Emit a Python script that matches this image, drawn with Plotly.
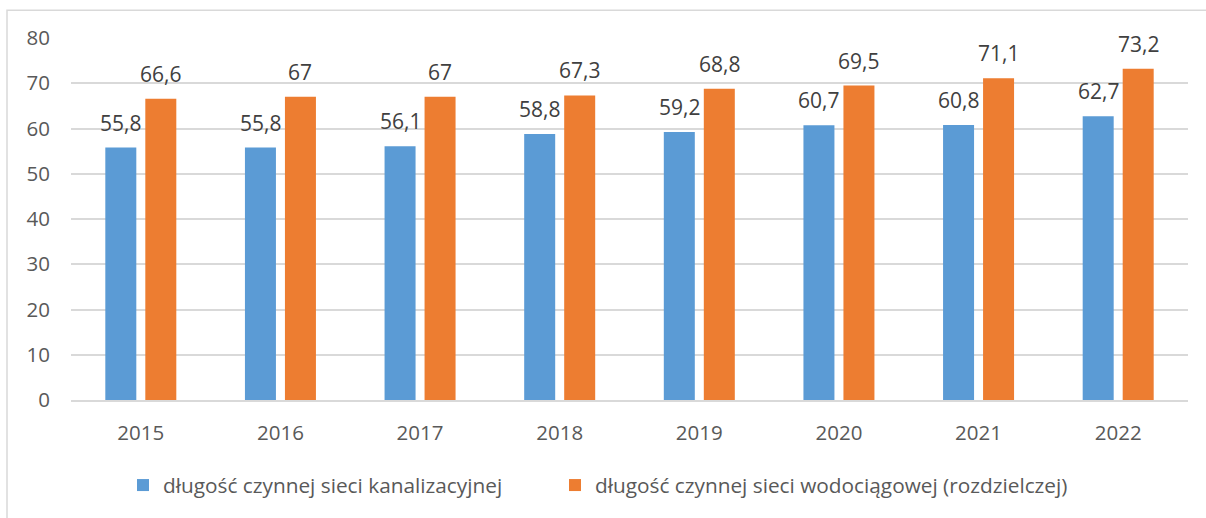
import plotly.graph_objects as go

years = ["2015", "2016", "2017", "2018", "2019", "2020", "2021", "2022"]
kanalizacja = [55.8, 55.8, 56.1, 58.8, 59.2, 60.7, 60.8, 62.7]
wodociagi = [66.6, 67, 67, 67.3, 68.8, 69.5, 71.1, 73.2]
name_kan = "długość czynnej sieci kanalizacyjnej"
name_wod = "długość czynnej sieci wodociągowej (rozdzielczej)"
y_ticks = [0, 10, 20, 30, 40, 50, 60, 70, 80]

BLUE = "#5B9BD5"
ORANGE = "#ED7D31"
FONT = "Open Sans"

W, H = 1206, 518
L, R, T, B = 71, 18, 38, 116
pw, ph = W - L - R, H - T - B


def fmt(v):
    return f"{v:g}".replace(".", ",")


fig = go.Figure()
fig.add_trace(go.Bar(x=years, y=kanalizacja, name=name_kan, marker_color=BLUE,
                     marker_line_width=0, legend="legend"))
fig.add_trace(go.Bar(x=years, y=wodociagi, name=name_wod, marker_color=ORANGE,
                     marker_line_width=0, legend="legend2"))

# value labels above each bar
slot = 0.143
annotations = []
for i, (a, b) in enumerate(zip(kanalizacja, wodociagi)):
    for off, v in ((-slot, a), (slot, b)):
        annotations.append(dict(x=i + off, y=v, xref="x", yref="y", text=fmt(v),
                                showarrow=False, yanchor="bottom", yshift=9,
                                font=dict(family=FONT, size=21, color="#404040")))

# outer frame
fig.add_shape(type="rect", xref="paper", yref="paper",
              x0=(7 - L) / pw, x1=(W + 5 - L) / pw,
              y0=(H - B - (H + 5)) / ph, y1=(H - B - 10) / ph,
              line=dict(color="#D9D9D9", width=1.5), fillcolor="rgba(0,0,0,0)",
              layer="below")

legend_font = dict(family=FONT, size=20.8, color="#595959")
fig.update_layout(
    width=W, height=H,
    margin=dict(l=L, r=R, t=T, b=B, pad=0),
    paper_bgcolor="white", plot_bgcolor="white",
    barmode="group", bargap=0.427, bargroupgap=0.225,
    font=dict(family=FONT, size=20, color="#595959"),
    annotations=annotations,
    showlegend=True,
    legend=dict(x=(123 - L) / pw, y=(H - B - 488) / ph, xanchor="left", yanchor="middle",
                font=legend_font, bgcolor="rgba(0,0,0,0)"),
    legend2=dict(x=(555 - L) / pw, y=(H - B - 488) / ph, xanchor="left", yanchor="middle",
                 font=legend_font, bgcolor="rgba(0,0,0,0)"),
    xaxis=dict(type="category", showgrid=False, showline=True, linecolor="#D9D9D9",
               linewidth=1.5, ticks="", ticklabelstandoff=14,
               tickfont=dict(family=FONT, size=20.5, color="#595959")),
    yaxis=dict(range=[0, 80], tickvals=y_ticks, showgrid=True, gridcolor="#D9D9D9",
               gridwidth=1.5, zeroline=False, showline=False, ticks="",
               ticklabelstandoff=20,
               tickfont=dict(family=FONT, size=20.5, color="#595959")),
)

fig.write_html("out.html")
